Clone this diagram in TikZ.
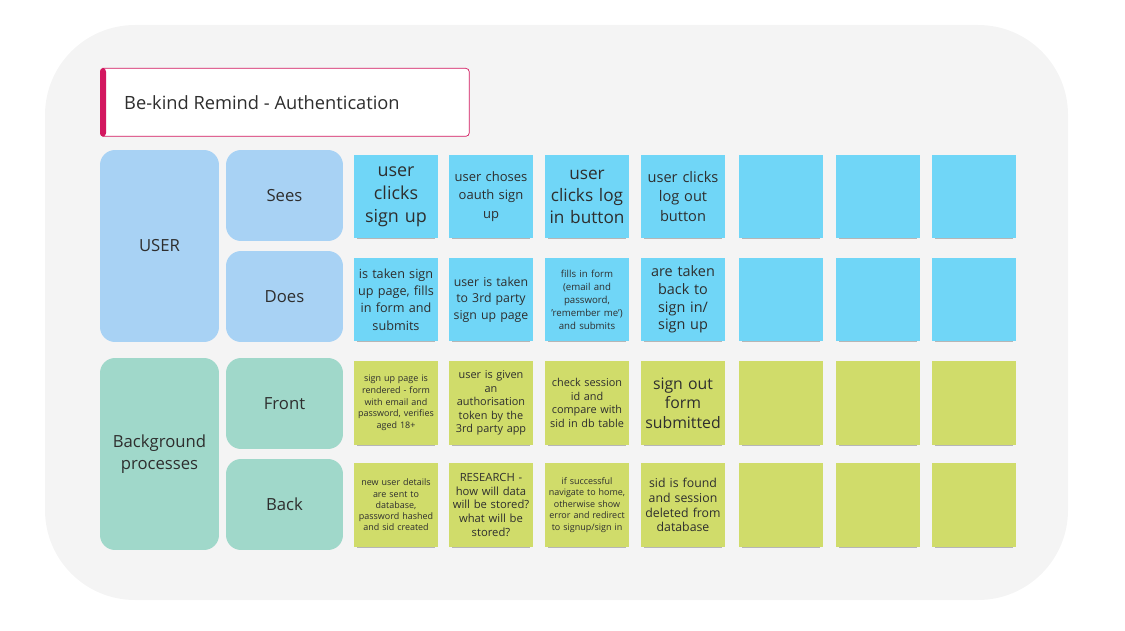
\documentclass[tikz,border=0pt]{standalone}
\usepackage{fontspec}
\setmainfont{Open Sans}
\usepackage{xcolor}
\usetikzlibrary{positioning, shadows}

\definecolor{boardgray}{HTML}{F4F4F4}
\definecolor{titlepink}{HTML}{D3175F}
\definecolor{userblue}{HTML}{A8D2F4}
\definecolor{bggreen}{HTML}{A0D8CA}
\definecolor{noteblue}{HTML}{70D6F7}
\definecolor{notegreen}{HTML}{D0DC6A}
\definecolor{inkgray}{HTML}{2E2E2E}

\newcommand{\fs}[2]{\fontsize{#1}{#2}\selectfont}

\begin{document}
\begin{tikzpicture}[x=0.02cm, y=-0.02cm,
    % Define simple, standard styles
    lane/.style={rectangle, rounded corners=0.3cm, align=center, text=inkgray, font=\fs{9.5}{12.5}},
    mainlane/.style={lane, minimum width=2.38cm, minimum height=3.84cm},
    sublane/.style={lane, minimum width=2.34cm, minimum height=1.82cm},
    sticky/.style={rectangle, minimum width=1.68cm, minimum height=1.68cm, inner sep=1pt, text width=1.62cm, align=center, text=inkgray,
        drop shadow={shadow xshift=0pt, shadow yshift=-2.5pt, shadow scale=0.92, opacity=0.25, fill=black}},
    bluenote/.style={sticky, fill=noteblue},
    greennote/.style={sticky, fill=notegreen}
]
\useasboundingbox (0,0) rectangle (1125,631);

% 1. The board
\fill[boardgray, rounded corners=1.8cm] (45,25) rectangle (1068,600);

% 2. Title card
\node[rectangle, draw=titlepink, fill=white, rounded corners=2pt, minimum width=7.38cm, minimum height=1.36cm, anchor=north west] (title) at (100,68) {};
\fill[titlepink, rounded corners=2pt] (title.north west) rectangle ([xshift=0.12cm]title.south west);
\node[anchor=west, text=inkgray, font=\fs{10.4}{12}] (titletext) at ([xshift=0.36cm]title.west) {Be-kind Remind - Authentication};

% 3. Swim lanes
\node[mainlane, fill=userblue] (user) at (159.5,246) {USER};
\node[sublane, fill=userblue] (sees) at (284.5,195.5) {Sees};
\node[sublane, fill=userblue] (does) at (284.5,296.5) {Does};
\node[mainlane, fill=bggreen] (bgproc) at (159.5,454) {Background\\processes};
\node[sublane, fill=bggreen] (front) at (284.5,403.5) {Front};
\node[sublane, fill=bggreen] (back) at (284.5,504.5) {Back};

% 4. Sticky notes: Sees
\node[bluenote, font=\fs{10.2}{13}] (sees1) at (396,196.5) {user\\clicks\\sign up};
\node[bluenote, font=\fs{7.4}{10.5}] (sees2) at (491,196.5) {user choses\\oauth sign\\up};
\node[bluenote, font=\fs{9.8}{12.5}] (sees3) at (587,196.5) {user\\clicks log\\in button};
\node[bluenote, font=\fs{8.3}{11}] (sees4) at (683,196.5) {user clicks\\log out\\button};

% Does
\node[bluenote, font=\fs{7.2}{9.8}] (does1) at (396,299.5) {is taken sign\\up page, fills\\in form and\\submits};
\node[bluenote, font=\fs{7}{9.4}] (does2) at (491,299.5) {user is taken\\to 3rd party\\sign up page};
\node[bluenote, font=\fs{5.5}{7.4}] (does3) at (587,299.5) {fills in form\\(email and\\password,\\'remember me')\\and submits};
\node[bluenote, font=\fs{8.2}{10.1}] (does4) at (683,299.5) {are taken\\back to\\sign in/\\sign up};

% Front
\node[greennote, font=\fs{5.1}{6.7}] (front1) at (396,403) {sign up page is\\rendered - form\\with email and\\password, verifies\\aged 18+};
\node[greennote, font=\fs{6.2}{7.6}] (front2) at (491,403) {user is given\\an\\authorisation\\token by the\\3rd party app};
\node[greennote, font=\fs{6.2}{7.8}] (front3) at (587,403) {check session\\id and\\compare with\\sid in db table};
\node[greennote, font=\fs{9}{11.1}] (front4) at (683,403) {sign out\\form\\submitted};

% Back
\node[greennote, font=\fs{5.1}{6.4}] (back1) at (396,505) {new user details\\are sent to\\database,\\password hashed\\and sid created};
\node[greennote, font=\fs{6.4}{7.8}] (back2) at (491,505) {RESEARCH -\\how will data\\will be stored?\\what will be\\stored?};
\node[greennote, font=\fs{5.1}{6.5}] (back3) at (587,505) {if successful\\navigate to home,\\otherwise show\\error and redirect\\to signup/sign in};
\node[greennote, font=\fs{7}{8.4}] (back4) at (683,505) {sid is found\\and session\\deleted from\\database};

% 5. Empty notes
\foreach \i/\x in {5/781, 6/878, 7/974} {
    \node[bluenote] (sees\i) at (\x,196.5) {};
    \node[bluenote] (does\i) at (\x,299.5) {};
    \node[greennote] (front\i) at (\x,403) {};
    \node[greennote] (back\i) at (\x,505) {};
}

\end{tikzpicture}
\end{document}
